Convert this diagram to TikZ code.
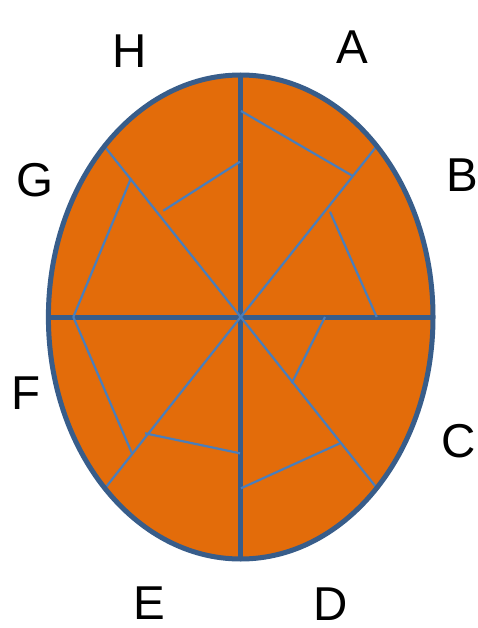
\documentclass[tikz,border=0pt]{standalone}
\usepackage{fontspec}
\setmainfont{Liberation Sans}
\usepackage{tikz}
\usetikzlibrary{calc}
\definecolor{clrO}{RGB}{227,108,10}
\definecolor{clrRim}{RGB}{56,93,138}
\definecolor{clrSeg}{RGB}{74,126,187}
\tikzset{
  rim/.style={draw=clrRim,line width=5pt},
  axis/.style={draw=clrRim,line width=5pt},
  spoke/.style={draw=clrSeg,line width=2.2pt},
  chord/.style={draw=clrSeg,line width=2.2pt},
  letter/.style={font=\fontsize{47.5}{57}\selectfont,inner sep=0pt,anchor=center}
}
\begin{document}
\begin{tikzpicture}[x=1pt,y=-1pt]
  \useasboundingbox (0,0) rectangle (477,628);
  \def\rx{192.3}
  \def\ry{242}
  \coordinate (O) at (240.7,317);
  \fill[clrO] (O) ellipse [x radius=\rx,y radius=\ry];
  % main cross
  \coordinate (top) at (240.7,75);
  \coordinate (bot) at (240.7,559);
  \coordinate (lft) at (48.4,317);
  \coordinate (rgt) at (433,317);
  \draw[axis] (top) -- (bot);
  \draw[axis] (lft) -- (rgt);
  % spokes to the rim
  \coordinate (nw) at (105,147);
  \coordinate (ne) at (376,147);
  \coordinate (sw) at (106,487);
  \coordinate (se) at (376,487);
  \draw[spoke] (nw) -- (O) -- (se);
  \draw[spoke] (ne) -- (O) -- (sw);
  % inner chords
  \coordinate (a1) at (241,111);   \coordinate (a2) at (352.3,175.7);
  \coordinate (b1) at (330,211.7); \coordinate (b2) at (376.7,317);
  \coordinate (c1) at (325,317);   \coordinate (c2) at (291.7,383.3);
  \coordinate (d1) at (340,443.3); \coordinate (d2) at (241,488.3);
  \coordinate (e1) at (145,433.3); \coordinate (e2) at (240,453.3);
  \coordinate (f1) at (73.3,317);  \coordinate (f2) at (131.7,452.7);
  \coordinate (g1) at (131,178.3); \coordinate (g2) at (73.3,317);
  \coordinate (h1) at (163.3,210.7); \coordinate (h2) at (240,161.7);
  \foreach \s in {a,b,c,d,e,f,g,h}
    \draw[chord] (\s1) -- (\s2);
  \draw[rim] (O) ellipse [x radius=\rx,y radius=\ry];
  % letters round the rim
  \node[letter] (lA) at (352,47) {A};
  \node[letter] (lB) at (462,175) {B};
  \node[letter] (lC) at (459,441) {C};
  \node[letter] (lD) at (331,604) {D};
  \node[letter] (lE) at (149,603) {E};
  \node[letter] (lF) at (26,393) {F};
  \node[letter] (lG) at (35,180.5) {G};
  \node[letter] (lH) at (130,51) {H};
\end{tikzpicture}
\end{document}
